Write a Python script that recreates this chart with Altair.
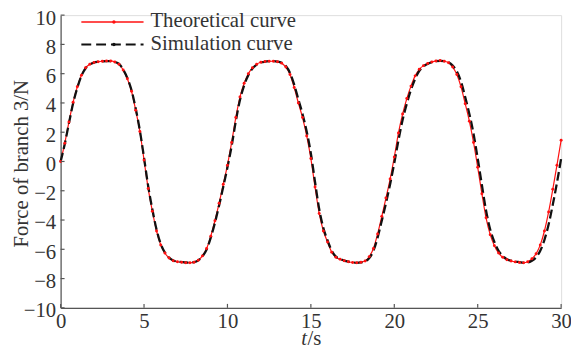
import altair as alt
import pandas as pd

# ---------------- data ----------------
t_step = 0.25
t_vals = [round(i * t_step, 2) for i in range(121)]

theoretical = (
    [0.0, 1.25, 2.7, 4.05, 5.1, 5.9, 6.4, 6.65, 6.77, 6.82,
     6.85, 6.87, 6.87, 6.8, 6.65, 6.25, 5.65, 4.8, 3.5, 2.05,
     0.1, -1.85, -3.4, -4.75, -5.7, -6.25, -6.6, -6.78, -6.85, -6.88,
     -6.92, -6.92, -6.88, -6.75, -6.45, -5.95, -5.1, -4.05, -2.85, -1.55,
     -0.25]
    + [1.3, 3.0, 4.4, 5.35, 6.0, 6.4, 6.65, 6.78, 6.83,
       6.85, 6.85, 6.82, 6.72, 6.45, 5.95, 5.05, 4.0, 3.0, 1.75,
       0.2, -1.75, -3.55, -4.75, -5.5, -6.2, -6.55, -6.68, -6.78, -6.85,
       -6.9, -6.92, -6.88, -6.8, -6.5, -5.95, -4.95, -3.75, -2.5, -1.2,
       0.3]
    + [1.95, 3.25, 4.3, 5.15, 5.85, 6.3, 6.55, 6.7, 6.8,
       6.87, 6.9, 6.85, 6.75, 6.45, 5.95, 5.1, 3.95, 2.75, 1.3,
       -0.4, -2.2, -3.85, -5.0, -5.75, -6.25, -6.55, -6.72, -6.8, -6.86,
       -6.9, -6.92, -6.85, -6.65, -6.3, -5.7, -4.75, -3.45, -1.9, -0.25,
       1.45]
)

simulation = (
    [0.0, 1.2, 2.62, 3.98, 5.03, 5.86, 6.37, 6.63, 6.76, 6.81,
     6.84, 6.86, 6.86, 6.8, 6.67, 6.28, 5.7, 4.87, 3.62, 2.12,
     0.25, -1.7, -3.28, -4.65, -5.63, -6.22, -6.57, -6.76, -6.84, -6.87,
     -6.9, -6.91, -6.88, -6.76, -6.48, -6.02, -5.2, -4.18, -3.0, -1.72,
     -0.4]
    + [1.05, 2.75, 4.2, 5.2, 5.9, 6.35, 6.62, 6.76, 6.82,
       6.85, 6.85, 6.83, 6.75, 6.52, 6.05, 5.25, 4.25, 3.25, 2.05,
       0.55, -1.4, -3.25, -4.55, -5.4, -6.1, -6.5, -6.66, -6.77, -6.84,
       -6.89, -6.92, -6.9, -6.83, -6.6, -6.1, -5.2, -4.05, -2.85, -1.55,
       -0.1]
    + [1.45, 2.85, 3.95, 4.9, 5.65, 6.2, 6.5, 6.67, 6.78,
       6.85, 6.88, 6.86, 6.78, 6.55, 6.15, 5.45, 4.4, 3.25, 1.9,
       0.2, -1.6, -3.35, -4.65, -5.5, -6.1, -6.45, -6.68, -6.78, -6.84,
       -6.88, -6.92, -6.9, -6.78, -6.55, -6.1, -5.35, -4.3, -2.95, -1.45,
       0.2]
)

series_names = ["Theoretical curve", "Simulation curve"]
x_ticks = [0, 5, 10, 15, 20, 25, 30]
y_ticks = [-10, -8, -6, -4, -2, 0, 2, 4, 6, 8, 10]
x_title_parts = ["t", "/s"]
y_title = "Force of branch 3/N"

# ---------------- layout / style ----------------
W, H = 507, 296.5
FONT = "Liberation Serif"
FS = 21
RED = "#ff1010"
BLACK = "#111111"
AXIS = "#555555"

df_th = pd.DataFrame({"t": t_vals, "v": theoretical})
df_sim = pd.DataFrame({"t": t_vals, "v": simulation})
df_xt = pd.DataFrame({"t": x_ticks})
df_yt = pd.DataFrame({"v": y_ticks})

xs = alt.Scale(domain=[0, 30], nice=False, zero=False)
ys = alt.Scale(domain=[-10, 10], nice=False, zero=False)

xenc = alt.X(
    "t:Q", scale=xs,
    axis=alt.Axis(values=x_ticks, ticks=False, tickSize=0, grid=False, title=None,
                  labelFont=FONT, labelFontSize=FS, labelColor="#333333",
                  labelPadding=3, domainColor=AXIS, domainWidth=1.2,
                  labelFlush=False, labelOverlap=False),
)
yenc = alt.Y(
    "v:Q", scale=ys,
    axis=alt.Axis(values=y_ticks, ticks=False, tickSize=0, grid=False, title=y_title,
                  labelFont=FONT, labelFontSize=FS, labelColor="#333333",
                  labelPadding=5, labelOffset=3, domainColor=AXIS, domainWidth=1.2,
                  labelOverlap=False,
                  titleFont=FONT, titleFontSize=FS, titleFontWeight="normal",
                  titleColor="#333333", titleX=-34, titleY=150,
                  titleBaseline="alphabetic"),
)

red_line = alt.Chart(df_th).mark_line(color=RED, strokeWidth=1.2, interpolate="monotone").encode(x=xenc, y=yenc)
red_pts = alt.Chart(df_th).mark_circle(color=RED, size=9, opacity=1).encode(x=xenc, y=yenc)
blk_line = alt.Chart(df_sim).mark_line(color=BLACK, strokeWidth=2.3, strokeDash=[9, 4],
                                       interpolate="monotone").encode(x=xenc, y=yenc)

xtick = alt.Chart(df_xt).mark_rule(color=AXIS, strokeWidth=1.2).encode(
    x=xenc, y=alt.value(H), y2=alt.value(H - 4))
ytick = alt.Chart(df_yt).mark_rule(color=AXIS, strokeWidth=1.2).encode(
    y=yenc, x=alt.value(0), x2=alt.value(4))

# legend (drawn inside the plot, top-left)
leg1 = pd.DataFrame({"label": [series_names[0]]})
leg2 = pd.DataFrame({"label": [series_names[1]]})
L_X1, L_X2, L_XM, L_TX = 21, 84, 54, 91
R1, R2 = 7, 29.7

leg_r_line = alt.Chart(leg1).mark_rule(color=RED, strokeWidth=1.4).encode(
    x=alt.value(L_X1), x2=alt.value(L_X2), y=alt.value(R1))
leg_r_pt = alt.Chart(leg1).mark_circle(color=RED, size=12, opacity=1).encode(
    x=alt.value(L_XM), y=alt.value(R1))
leg_r_txt = alt.Chart(leg1).mark_text(align="left", baseline="alphabetic", font=FONT,
                                      fontSize=FS, color="#333333").encode(
    x=alt.value(L_TX), y=alt.value(12.5), text="label:N")
leg_b_line = alt.Chart(leg2).mark_rule(color=BLACK, strokeWidth=2, strokeDash=[10, 5]).encode(
    x=alt.value(L_X1), x2=alt.value(L_X2), y=alt.value(R2))
leg_b_pt = alt.Chart(leg2).mark_circle(color=BLACK, size=12, opacity=1).encode(
    x=alt.value(L_XM), y=alt.value(R2))
leg_b_txt = alt.Chart(leg2).mark_text(align="left", baseline="alphabetic", font=FONT,
                                      fontSize=FS, color="#333333").encode(
    x=alt.value(L_TX), y=alt.value(35.5), text="label:N")

# x-axis title "t/s" with italic t
xt1 = pd.DataFrame({"s": [x_title_parts[0]]})
xt2 = pd.DataFrame({"s": [x_title_parts[1]]})
XT_X, XT_Y = 249.5, 334
xtitle1 = alt.Chart(xt1).mark_text(align="right", baseline="alphabetic", font=FONT,
                                   fontSize=FS, fontStyle="italic", color="#333333").encode(
    x=alt.value(XT_X), y=alt.value(XT_Y), text="s:N")
xtitle2 = alt.Chart(xt2).mark_text(align="left", baseline="alphabetic", font=FONT,
                                   fontSize=FS, color="#333333").encode(
    x=alt.value(XT_X + 0.5), y=alt.value(XT_Y), text="s:N")

chart = alt.layer(
    red_line, blk_line, red_pts, xtick, ytick,
    leg_r_line, leg_r_pt, leg_r_txt, leg_b_line, leg_b_pt, leg_b_txt,
    xtitle1, xtitle2,
).properties(
    width=W, height=H,
    autosize=alt.AutoSizeParams(type="none"),
    padding={"left": 53.3, "top": 5, "right": 10, "bottom": 42},
).configure_view(stroke=None).configure(background="white")

chart.save("out.html", embed_options={"renderer": "svg", "actions": False})
